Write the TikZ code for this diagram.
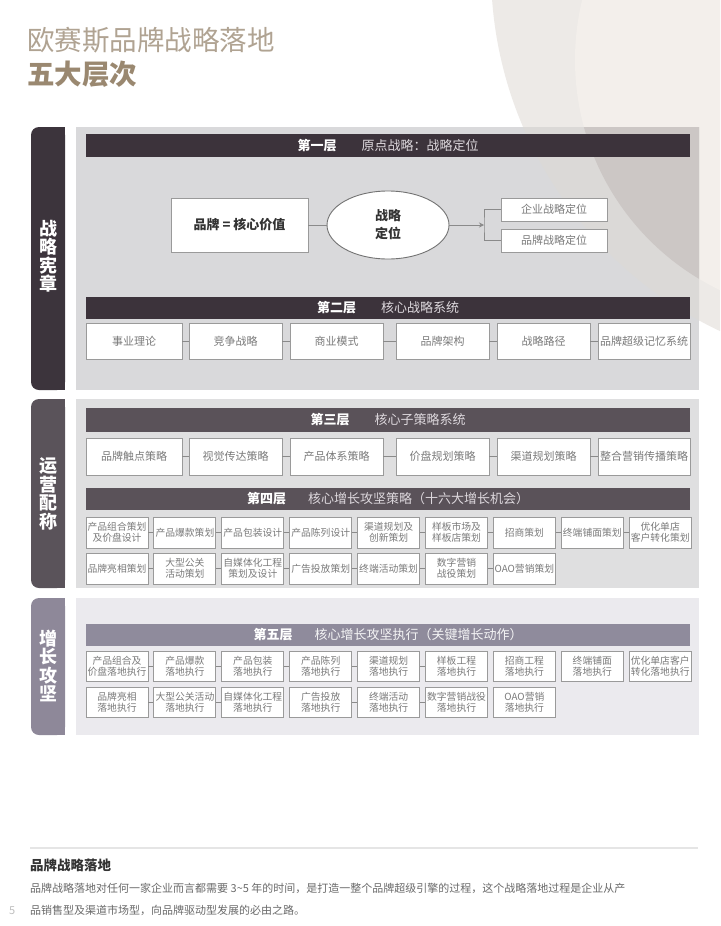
\documentclass[tikz,border=0pt]{standalone}
\usepackage{fontspec}
\setmainfont{Noto Sans CJK SC}
\usetikzlibrary{shapes.geometric,arrows.meta}
\definecolor{titlelight}{HTML}{B0A392}
\definecolor{titlebold}{HTML}{9A8870}
\definecolor{bgouter}{HTML}{EDEAE7}
\definecolor{bginner}{HTML}{F3EFEB}
\definecolor{panelone}{HTML}{D9D9DB}
\definecolor{panelring}{HTML}{DBD9D7}
\definecolor{paneldark}{HTML}{CCC7C5}
\definecolor{paneltwo}{HTML}{DFDFE0}
\definecolor{panelthree}{HTML}{EBEAEE}
\definecolor{tabone}{HTML}{3C343C}
\definecolor{tabtwo}{HTML}{5A535A}
\definecolor{tabthree}{HTML}{8E8899}
\definecolor{headone}{HTML}{3C333B}
\definecolor{headthree}{HTML}{5A5259}
\definecolor{headfive}{HTML}{8F8B9C}
\definecolor{headsub}{HTML}{DDD8DD}
\definecolor{boxgray}{HTML}{9A9A9A}
\definecolor{itemtext}{HTML}{7A7A7A}
\definecolor{linkgray}{HTML}{8A8A8A}
\definecolor{notehead}{HTML}{333333}
\definecolor{notetext}{HTML}{6A6A6A}
\tikzset{
  tabtext/.style={text=white, align=center, inner sep=0pt,
    font=\fontsize{18}{18.5}\selectfont\bfseries},
  headbar/.style={minimum width=604pt, minimum height=22pt, inner sep=0pt,
    text=white, font=\fontsize{13}{15}\selectfont},
  itembox/.style={draw=boxgray, fill=white, line width=0.9pt, text=itemtext,
    inner sep=0pt, minimum height=36pt, font=\fontsize{11}{13}\selectfont},
  cellbox/.style={draw=boxgray, fill=white, line width=0.9pt, text=itemtext,
    inner sep=0pt, minimum width=62pt, minimum height=31pt, align=center,
    font=\fontsize{9.8}{11.4}\selectfont},
  mainbox/.style={draw=boxgray, fill=white, line width=0.9pt, text=notehead,
    inner sep=0pt, minimum width=137pt, minimum height=54pt,
    font=\fontsize{13}{15}\selectfont\bfseries},
  posell/.style={ellipse, draw=black!55, fill=white, line width=0.9pt,
    text=notehead, inner sep=0pt, minimum width=122pt, minimum height=68pt,
    align=center, font=\fontsize{13}{18}\selectfont\bfseries},
  subbox/.style={draw=boxgray, fill=white, line width=0.9pt, text=itemtext,
    inner sep=0pt, minimum width=106pt, minimum height=23pt,
    font=\fontsize{11}{13}\selectfont},
  link/.style={draw=linkgray, line width=0.7pt},
}
\begin{document}
\begin{tikzpicture}[x=1pt, y=-1pt]
  \def\colx{117};
  \def\colw{67.9};
  \useasboundingbox (0,0) rectangle (720,926);
  \fill[white] (0,0) rectangle (720,926);
  %
  \begin{scope}
    \clip (0,0) rectangle (720,926);
    \fill[bgouter] (890,-30) circle[radius=399];   % large arc
    \fill[bginner] (830,60) circle[radius=255];    % small arc
  \end{scope}
  %
  \node[anchor=base west, inner sep=0pt, text=titlelight,
    font=\fontsize{27.5}{30}\selectfont] (title) at (27,50.5) {欧赛斯品牌战略落地};
  \node[anchor=base west, inner sep=0pt, text=titlebold,
    font=\fontsize{27.5}{30}\selectfont\bfseries] (subtitle) at (27,84.5) {五大层次};
  %
  \fill[panelone] (76,127) rectangle (699,390);   % panel one
  \begin{scope}
    \clip (76,127) rectangle (699,390);
    \fill[panelring] (890,-30) circle[radius=399];
    \fill[paneldark] (830,60) circle[radius=255];
  \end{scope}
  \fill[paneltwo] (76,399) rectangle (699,588);   % panel two
  \fill[panelthree] (76,598) rectangle (699,735); % panel three
  %
  \fill[tabone, rounded corners=8pt] (31,127) rectangle (65,390);
  \fill[tabone] (50,127) rectangle (65,390);
  \node[tabtext] (tab1) at (48,256) {战\\略\\宪\\章};
  \fill[tabtwo, rounded corners=8pt] (31,399) rectangle (65,588);
  \fill[tabtwo] (50,399) rectangle (65,588);
  \node[tabtext] (tab2) at (48,494) {运\\营\\配\\称};
  \fill[tabthree, rounded corners=8pt] (31,598) rectangle (65,735);
  \fill[tabthree] (50,598) rectangle (65,735);
  \node[tabtext] (tab3) at (48,666) {增\\长\\攻\\坚};
  %
  % first layer
  \node[headbar, fill=headone, minimum height=23pt] (h1) at (388,145.5)
    {\textbf{第一层}\hspace{25pt}{\color{headsub}原点战略：战略定位}};
  \node[mainbox] (brand) at (239.5,225) {品牌 = 核心价值};
  \node[posell] (pos) at (388,225) {战略\\定位};
  \node[subbox] (corp) at (554,209.5) {企业战略定位};
  \node[subbox] (bpos) at (554,240.5) {品牌战略定位};
  \coordinate (fork) at (484,225);
  \draw[link] (brand) -- (pos);
  \draw[link, -{Stealth[length=5pt,width=5pt]}] (pos) -- (fork);
  \draw[link] (corp.west) -| (fork) |- (bpos.west);
  %
  % second layer
  \node[headbar, fill=headone] (h2) at (388,307.5)
    {\textbf{第二层}\hspace{25pt}{\color{headsub}核心战略系统}};
  \foreach \cx/\w/\txt [count=\i] in {134/96/事业理论, 235.5/93/竞争战略,
      336.5/93/商业模式, 442.5/93/品牌架构, 543.5/93/战略路径,
      644/92/品牌超级记忆系统}
    \node[itembox, minimum width=\w pt] (core-\i) at (\cx,341) {\txt};
  \foreach \i/\j in {1/2,2/3,3/4,4/5,5/6}
    \draw[link] (core-\i) -- (core-\j);
  %
  % third layer
  \node[headbar, fill=headthree, minimum height=24pt] (h3) at (388,420)
    {\textbf{第三层}\hspace{25pt}{\color{headsub}核心子策略系统}};
  \foreach \cx/\w/\txt [count=\i] in {134/96/品牌触点策略, 235.5/93/视觉传达策略,
      336.5/93/产品体系策略, 442.5/93/价盘规划策略, 543.5/93/渠道规划策略,
      644/92/整合营销传播策略}
    \node[itembox, minimum width=\w pt, minimum height=37pt] (sub-\i) at (\cx,456.5) {\txt};
  \foreach \i/\j in {1/2,2/3,3/4,4/5,5/6}
    \draw[link] (sub-\i) -- (sub-\j);
  %
  % fourth layer
  \node[headbar, fill=headthree] (h4) at (388,498.5)
    {\textbf{第四层}\hspace{22pt}{\color{headsub}核心增长攻坚策略（十六大增长机会）}};
  \foreach \txt [count=\i] in {{产品组合策划\\及价盘设计}, 产品爆款策划, 产品包装设计,
      产品陈列设计, {渠道规划及\\创新策划}, {样板市场及\\样板店策划}, 招商策划,
      终端铺面策划, {优化单店\\客户转化策划}}
    \node[cellbox] (gro-\i) at ({\colx+\colw*(\i-1)},532.5) {\txt};
  \foreach \txt [count=\i] in {品牌亮相策划, {大型公关\\活动策划}, {自媒体化工程\\策划及设计},
      广告投放策划, 终端活动策划, {数字营销\\战役策划}, OAO营销策划}
    \node[cellbox] (grt-\i) at ({\colx+\colw*(\i-1)},568.5) {\txt};
  \foreach \i/\j in {1/2,2/3,3/4,4/5,5/6,6/7,7/8,8/9}
    \draw[link] (gro-\i) -- (gro-\j);
  \foreach \i/\j in {1/2,2/3,3/4,4/5,5/6,6/7}
    \draw[link] (grt-\i) -- (grt-\j);
  %
  % fifth layer
  \node[headbar, fill=headfive] (h5) at (388,634.5)
    {\textbf{第五层}\hspace{22pt}{\color{white!90!headfive}核心增长攻坚执行（关键增长动作）}};
  \foreach \txt [count=\i] in {{产品组合及\\价盘落地执行}, {产品爆款\\落地执行},
      {产品包装\\落地执行}, {产品陈列\\落地执行}, {渠道规划\\落地执行},
      {样板工程\\落地执行}, {招商工程\\落地执行}, {终端铺面\\落地执行},
      {优化单店客户\\转化落地执行}}
    \node[cellbox, minimum height=30pt] (exa-\i) at ({\colx+\colw*(\i-1)},666) {\txt};
  \foreach \txt [count=\i] in {{品牌亮相\\落地执行}, {大型公关活动\\落地执行},
      {自媒体化工程\\落地执行}, {广告投放\\落地执行}, {终端活动\\落地执行},
      {数字营销战役\\落地执行}, {OAO营销\\落地执行}}
    \node[cellbox, minimum height=30pt] (exb-\i) at ({\colx+\colw*(\i-1)},702) {\txt};
  \foreach \i/\j in {1/2,2/3,3/4,4/5,5/6}
    \draw[link] (exa-\i) -- (exa-\j);
  \foreach \i/\j in {1/2,2/3,4/5,5/6}
    \draw[link] (exb-\i) -- (exb-\j);
  %
  % note at the foot
  \draw[draw=black!10, line width=2pt] (30,848) -- (698,848);
  \node[anchor=base west, inner sep=0pt, text=notehead,
    font=\fontsize{13.5}{15}\selectfont\bfseries] (notehead) at (30,870) {品牌战略落地};
  \node[anchor=base west, inner sep=0pt, text=notetext,
    font=\fontsize{11}{13}\selectfont] (noteone) at (30,892)
    {品牌战略落地对任何一家企业而言都需要 3\textasciitilde 5 年的时间，是打造一整个品牌超级引擎的过程，这个战略落地过程是企业从产};
  \node[anchor=base west, inner sep=0pt, text=notetext,
    font=\fontsize{11}{13}\selectfont] (notetwo) at (30,914)
    {品销售型及渠道市场型，向品牌驱动型发展的必由之路。};
  \node[anchor=base west, inner sep=0pt, text=black!25,
    font=\fontsize{11}{13}\selectfont] (pageno) at (9,914) {5};
\end{tikzpicture}
\end{document}
